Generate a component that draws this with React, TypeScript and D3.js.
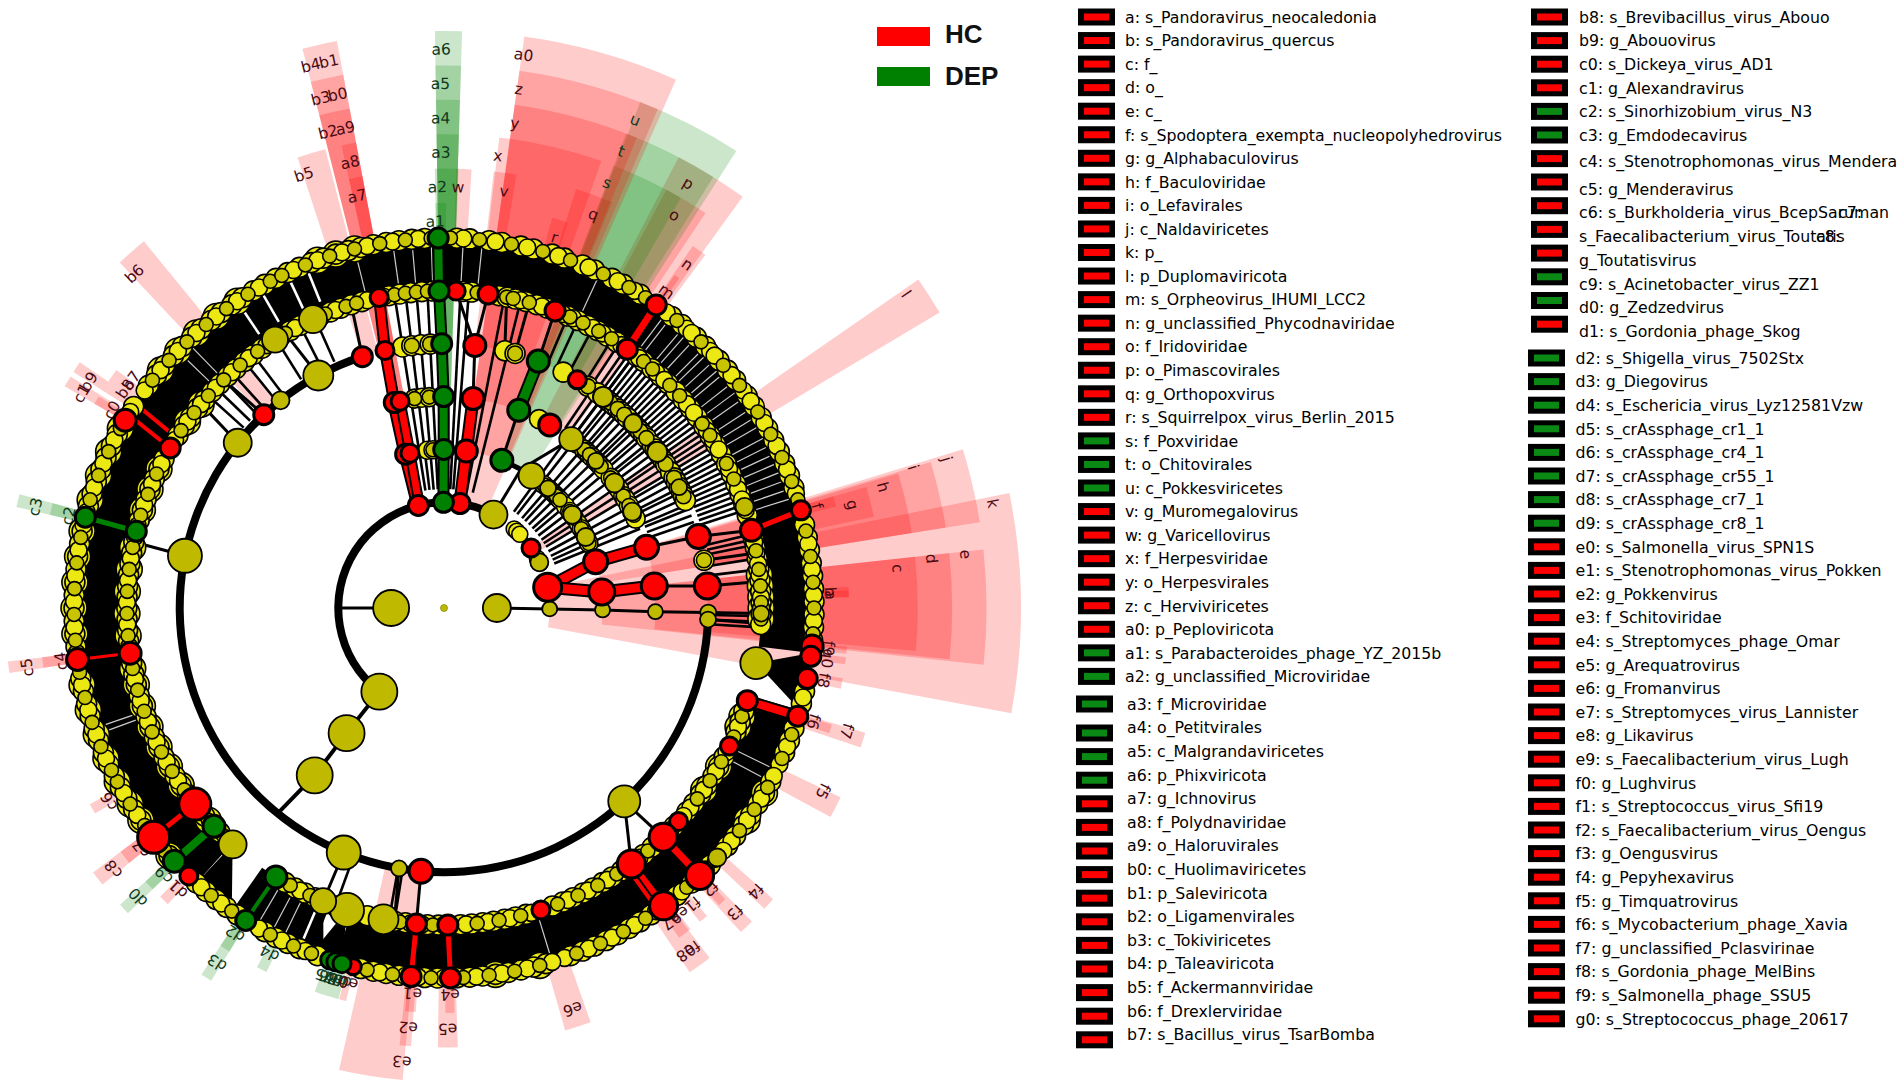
import * as d3 from 'd3';

type Cls = 'HC' | 'DEP' | 'Y';

// angles are degrees clockwise from 12 o'clock, levels run 1 (kingdom) to 7 (species)
const center = { x: 444, y: 608 };
const ringR = d3.scaleLinear().domain([0, 7]).range([0, 370]);
const outerR = d3.scaleLinear().domain([2, 7]).range([577, 405]);
const toRad = d3.scaleLinear().domain([0, 360]).range([0, 2 * Math.PI]);

const speciesBright = [2, 4, 7, 9, 12, 14, 17, 19, 22, 24, 27, 29, 32, 38, 40, 43, 45, 48, 50, 52, 55, 57, 59, 61, 63, 65, 67, 69, 71, 77, 79, 81, 83, 85, 87, 89, 91, 93, 95, 103, 105, 109, 111, 113, 118, 120, 122, 124, 126, 128, 130, 134, 138, 141, 146, 148, 150, 152, 154, 156, 158, 160, 164, 166, 168, 170, 172, 174, 176, 178, 181, 183, 187, 189, 191, 193, 200, 203, 205, 207, 209, 214, 216, 218, 220, 222, 228, 233, 235, 237, 239, 241, 243, 245, 247, 249, 251, 253, 255, 257, 259, 264, 266, 268, 270, 272, 274, 276, 278, 280, 282, 286, 288, 290, 292, 294, 296, 298, 303, 307, 309, 311, 313, 315, 317, 319, 321, 323, 325, 327, 329, 331, 333, 335, 337, 339, 341, 343, 345, 347, 349, 351, 353, 355, 357];
const speciesDark = [1, 5.5, 10.5, 15.5, 20, 25.5, 30, 33, 39, 44, 49, 53, 58, 62, 66, 70, 73, 78, 82, 86, 90, 94, 98, 110, 114, 119, 123, 127, 133, 139, 147, 151, 155, 159, 165, 169, 173, 177, 182, 188, 192, 201, 204, 208, 215, 219, 229, 234, 238, 242, 244, 248, 252, 256, 260, 265, 269, 273, 277, 281, 287, 291, 295, 299, 308, 312, 316, 320, 324, 328, 332, 334, 338, 342, 346, 350, 354, 358];
const speciesWide = [228, 235, 238, 242, 246, 250, 254, 258, 266, 270, 274, 278, 282, 287, 291, 295, 299, 310, 314, 318, 322, 326, 340, 343, 346, 120, 125, 165, 172];
const speciesExtra = [3, 8, 13, 18, 23, 28, 31, 37, 41, 42, 46, 47, 51, 54, 56, 60, 64, 68, 72, 80, 84, 88, 92, 96, 104, 112, 115, 117, 121, 125, 129, 131, 135, 137, 140, 145, 149, 153, 157, 161, 163, 167, 171, 175, 180, 184, 186, 190, 202, 206, 210, 217, 221, 230, 236, 240, 246, 250, 254, 258, 263, 267, 271, 275, 279, 283, 285, 289, 293, 297, 302, 306, 310, 314, 318, 322, 326, 330, 336, 340, 344, 348, 352, 356];

const genusBright = [3.5, 5, 10, 11.5, 13, 15, 17, 19, 23, 25, 27, 29, 31, 33, 37.5, 39, 41, 43, 45, 47, 49, 51, 53, 55, 57, 59, 61, 63, 65, 67, 69, 71, 73, 77.5, 79, 81, 83, 85, 87, 89, 91, 93, 109, 111, 113, 118, 120, 122, 124, 126, 128, 130, 133.5, 139, 141, 146, 148, 150, 152, 154, 156, 158, 160, 165, 167, 169, 171, 173, 175, 177, 181, 183, 187, 189, 191, 194, 200, 204, 206, 208, 210, 225, 229, 234, 236, 238, 240, 242, 244, 246, 248, 250, 252, 254, 256, 258, 260, 264, 266, 268, 270, 272, 274, 276, 278, 280, 282, 286, 288, 290, 292, 294, 296, 298, 303, 305, 307, 309, 311, 313, 315, 317, 319, 321, 323, 325, 329, 331, 333, 337, 339, 341, 343, 345, 350, 352, 354, 356, 358];
const genusDark = [6, 11.4, 12.6, 15.6, 23.4, 26, 29.2, 31.9, 39, 41.1, 45.4, 48, 54.5, 57, 62.9, 66, 71.4, 79.6, 83, 86, 89, 92, 110, 114, 119, 123, 127, 140, 147, 151, 155, 159, 166, 170, 174, 182, 188, 190, 205, 209, 224, 228, 235, 239, 243, 247, 251, 255, 259, 265, 269, 273, 277, 281, 287, 291, 295, 304, 308, 312, 316, 320, 324, 330, 338, 342, 344, 351, 353, 355, 357];
const genusWide = [228, 236, 240, 244, 248, 252, 256, 259, 265, 269, 273, 277, 281, 288, 292, 296, 306, 310, 84, 86, 88, 90, 92, 110, 112, 120, 125];
const genusExtra = [4, 14, 18, 22, 24, 28, 30, 34, 38, 42, 44, 50, 52, 56, 58, 60, 64, 68, 70, 72, 78, 80, 82, 84, 88, 90, 112, 117, 121, 125, 129, 131, 134.5, 142, 149, 153, 157, 164, 168, 172, 176, 180, 184, 186, 192, 201, 207, 227, 230, 237, 241, 245, 249, 253, 257, 263, 267, 271, 275, 279, 283, 285, 289, 293, 297, 302, 306, 310, 314, 318, 322, 326, 332, 336, 340, 346, 349];

const familyRing = [13.3, 15.6, 26.8, 33, 35.5, 37, 38, 39, 40, 41.1, 42, 43, 44, 45.7, 47, 48, 49, 50, 52, 53, 53.8, 55, 56, 57, 59, 60.5, 61.5, 62.8, 64, 65, 66, 79.6, 351, 353, 355, 357];
const orderRing = [26.7, 37, 39, 41.5, 42.5, 43.5, 44.5, 45.9, 47, 48, 49, 52, 53.7, 55, 56, 58, 59, 61, 62.9, 64, 65, 352, 354, 356];
const classRing = [33.5, 39, 41, 42, 44, 45, 46, 47, 50, 52.5, 54, 55.5, 58, 60, 62, 63.4, 64.5, 66, 354, 356];
const phylumRing = [41.6, 43.5, 45.8, 62, 65];

// band of dense species edges between genus and species rings: [from, to]
const denseBands = [[106, 197], [201, 215], [222, 457]];
const fans: [number, number, number, number][] = [
  [6, 100, 97, 106], [6, 221.8, 215, 222], [6, 197.8, 196, 201], [6, 202.4, 199, 204],
];
const streaksThin = [37, 38, 40.5, 41.5, 43, 45, 46, 47.5, 49, 50, 52, 53.5, 55, 57, 58.5, 60, 62, 63.5, 65, 66.5, 68, 69.5, 71, 72.5, 116, 118, 163, 206, 208, 210.5, 212.5, 250, 251, 314, 316, 346, 352, 355, 358, 3, 6, 25];
const streaksWide = [326, 330, 334.8, 338, 203];

// edge bundles: [from level, to level, angles]
const spokes: [number, number, number[]][] = [
  [2, 4, [36, 38, 41, 43, 45.5, 48, 50, 52.5, 55, 57, 59, 61.5, 64, 66, 68]],
  [4, 5, [34, 35.5, 37, 38.5, 39.5, 41, 42, 43.5, 45, 46, 47, 48.5, 49.5, 51, 52, 53.5, 55, 56, 57.5, 59, 60, 61.5, 63, 64, 65.5, 67, 68, 69.5, 71]],
  [5, 6, [23, 25, 28, 32, 33.5, 35, 36, 37, 38, 39, 40, 41, 42, 43, 44, 45, 46, 47, 48, 49, 50, 51, 52, 53, 54, 55, 56, 57, 58, 59, 60, 61, 62, 63, 64, 65, 66, 67, 68, 69, 70, 71, 72, 76.5, 77.5, 78.5, 81, 83, 91.5, 92.5, 93.5]],
  [2, 6, [351, 353, 355, 357, 3, 4.5, 11, 14]],
  [5, 6, [312, 314, 316, 318, 321, 323, 328, 336, 333, 189, 190, 200]],
];

// [level, angle, class, size]
const cladeNodes: [number, number, Cls, number][] = [
  [1, 270, 'Y', 18], [1, 90, 'Y', 14],
  [2, 217.7, 'Y', 18], [2, 27.9, 'Y', 14], [2, 90.5, 'Y', 7.5], [2, 64.4, 'Y', 9],
  [3, 217.9, 'Y', 18], [3, 33.5, 'Y', 13], [3, 90.7, 'Y', 7.5], [3, 54, 'Y', 9], [3, 63.4, 'Y', 9], [3, 41, 'Y', 8],
  [4, 217.7, 'Y', 18], [4, 37, 'Y', 12], [4, 91, 'Y', 7.5], [4, 53.7, 'Y', 9.5], [4, 62.9, 'Y', 9], [4, 45.9, 'Y', 8],
  [5, 137, 'Y', 16], [5, 189.8, 'Y', 8], [5, 202.3, 'Y', 17], [5, 281.4, 'Y', 17], [5, 308.7, 'Y', 14], [5, 321.8, 'Y', 9], [5, 331.6, 'Y', 15], [5, 37, 'Y', 10], [5, 91, 'Y', 8], [5, 92.5, 'Y', 8], [5, 53.8, 'Y', 10], [5, 45.7, 'Y', 9], [5, 62.8, 'Y', 8],
  [6, 100, 'Y', 16], [6, 221.8, 'Y', 14], [6, 197.8, 'Y', 17], [6, 202.4, 'Y', 13], [6, 191, 'Y', 15], [6, 327.8, 'Y', 13], [6, 335.6, 'Y', 14], [6, 91, 'Y', 8], [6, 71.4, 'Y', 9],
  [7, 132.4, 'Y', 9],
  // red clades
  [2, 78.7, 'HC', 14], [2, 55.4, 'HC', 9], [2, 346, 'HC', 10], [2, 8.7, 'HC', 10],
  [3, 73, 'HC', 12], [3, 84.2, 'HC', 13], [3, 346, 'HC', 10], [3, 347.6, 'HC', 9], [3, 8.1, 'HC', 11],
  [4, 73.3, 'HC', 12], [4, 84, 'HC', 13], [4, 30, 'HC', 11], [4, 346.4, 'HC', 10], [4, 348, 'HC', 9], [4, 7.9, 'HC', 11],
  [5, 74.3, 'HC', 12], [5, 85.2, 'HC', 13], [5, 30.3, 'HC', 9], [5, 6.7, 'HC', 11], [5, 185, 'HC', 12], [5, 342, 'HC', 10], [5, 317, 'HC', 10], [5, 347.1, 'HC', 9],
  [6, 75.8, 'HC', 11], [6, 35.3, 'HC', 10], [6, 20.5, 'HC', 10], [6, 8, 'HC', 10], [6, 2.2, 'HC', 9], [6, 348.2, 'HC', 9], [6, 107, 'HC', 10], [6, 115.8, 'HC', 9], [6, 132.3, 'HC', 9], [6, 136.3, 'HC', 14], [6, 143.8, 'HC', 14], [6, 162.2, 'HC', 9], [6, 179.3, 'HC', 10], [6, 185, 'HC', 10], [6, 231.8, 'HC', 16], [6, 261.8, 'HC', 11], [6, 300.3, 'HC', 10],
  [7, 74.7, 'HC', 9.5], [7, 35, 'HC', 10], [7, 95.9, 'HC', 11], [7, 97.5, 'HC', 10], [7, 101, 'HC', 10], [7, 107, 'HC', 10], [7, 136.3, 'HC', 14], [7, 143.6, 'HC', 14], [7, 179, 'HC', 10], [7, 185.1, 'HC', 10], [7, 194.2, 'HC', 8], [7, 223.6, 'HC', 9], [7, 231.7, 'HC', 16], [7, 262, 'HC', 11], [7, 300.5, 'HC', 11],
  // green clades
  [2, 359.7, 'DEP', 10], [3, 21.4, 'DEP', 11], [3, 359.9, 'DEP', 10],
  [4, 20.7, 'DEP', 11], [4, 359.9, 'DEP', 10], [5, 20.9, 'DEP', 11], [5, 359.5, 'DEP', 10], [6, 359.1, 'DEP', 10], [7, 359.1, 'DEP', 10],
  [6, 212, 'DEP', 11], [6, 226.5, 'DEP', 11], [6, 284, 'DEP', 10],
  [7, 198, 'DEP', 9], [7, 197, 'DEP', 9], [7, 196, 'DEP', 9], [7, 212.4, 'DEP', 10], [7, 226.8, 'DEP', 11], [7, 284.2, 'DEP', 10],
];

// [from level, from angle, to level, to angle, class, width]
const links: [number, number, number, number, Cls, number][] = [
  [1, 270, 2, 270, 'Y', 3], [1, 90, 2, 90.5, 'Y', 3], [2, 90.5, 3, 90.7, 'Y', 3], [3, 90.7, 4, 91, 'Y', 3], [4, 91, 5, 91, 'Y', 3], [5, 91, 6, 91, 'Y', 3], [6, 91, 7, 91, 'Y', 3], [5, 92.5, 7, 93, 'Y', 3],
  [2, 217.7, 3, 217.9, 'Y', 4], [3, 217.9, 4, 217.7, 'Y', 4], [4, 217.7, 5, 219, 'Y', 4],
  [2, 27.9, 3, 29, 'Y', 3], [3, 29, 4, 37, 'Y', 3], [4, 37, 5, 37, 'Y', 3], [5, 37, 6, 37, 'Y', 3],
  [4, 84, 5, 85.2, 'Y', 3], [4, 73.3, 5, 74.3, 'Y', 3], [5, 74.3, 6, 75.8, 'Y', 3], [5, 85.2, 6, 85.2, 'Y', 3], [5, 79.6, 6, 80, 'Y', 3],
  [4, 7.9, 5, 6.7, 'Y', 3], [5, 6.7, 6, 8, 'Y', 3], [5, 6.7, 6, 2.2, 'Y', 3], [5, 13.3, 6, 11.4, 'Y', 3], [5, 15.6, 6, 15.6, 'Y', 3], [5, 20.9, 6, 20.5, 'Y', 3],
  [5, 137, 6, 136.3, 'Y', 3], [5, 137, 6, 143.8, 'Y', 3], [5, 185, 6, 185, 'Y', 3], [5, 189.8, 6, 189, 'Y', 3], [5, 202.3, 6, 202.4, 'Y', 3], [5, 281.4, 6, 282, 'Y', 3], [5, 308.7, 6, 310, 'Y', 3], [5, 331.6, 6, 330, 'Y', 3], [5, 317, 6, 316, 'Y', 3], [5, 342, 6, 343, 'Y', 3],
  [2, 78.7, 3, 73, 'HC', 9], [3, 73, 4, 73.3, 'HC', 9], [2, 78.7, 3, 84.2, 'HC', 9], [3, 84.2, 4, 84, 'HC', 9], [6, 75.8, 7, 74.7, 'HC', 5],
  [2, 346, 3, 346, 'HC', 10], [3, 346, 4, 346.4, 'HC', 10], [2, 346.5, 3, 347.6, 'HC', 7], [3, 347.6, 4, 348, 'HC', 7], [4, 346.4, 5, 347.1, 'HC', 8], [5, 347.1, 6, 348.2, 'HC', 8],
  [2, 8.7, 3, 8.1, 'HC', 9], [3, 8.1, 4, 7.9, 'HC', 9], [6, 35.3, 7, 35, 'HC', 7],
  [6, 107, 7, 107, 'HC', 8], [6, 136.3, 7, 136.3, 'HC', 7], [6, 143.8, 7, 143.6, 'HC', 7], [6, 144.8, 7, 144.7, 'HC', 4], [6, 179.3, 7, 179, 'HC', 5], [6, 185, 7, 185.1, 'HC', 5], [6, 231.8, 7, 231.7, 'HC', 5], [6, 261.8, 7, 262, 'HC', 3], [6, 300.3, 7, 301.5, 'HC', 4], [6, 302.5, 7, 303.5, 'HC', 4],
  [2, 359.7, 3, 359.9, 'DEP', 8], [3, 359.9, 4, 359.9, 'DEP', 8], [4, 359.9, 5, 359.5, 'DEP', 8], [5, 359.5, 6, 359.1, 'DEP', 8], [6, 359.1, 7, 359.1, 'DEP', 8],
  [3, 21.4, 4, 20.7, 'Y', 3], [4, 20.7, 5, 20.9, 'DEP', 9], [6, 212, 7, 212.4, 'DEP', 4], [6, 226.5, 7, 226.8, 'DEP', 8], [6, 284, 7, 284.2, 'DEP', 5],
];

// thick connecting arcs: [level, from, to, width]
const arcs: [number, number, number, number][] = [
  [2, 217.7, 387.9, 8], [5, 92.5, 342, 8], [3, 21.4, 33.5, 5],
];

// label, level, wedge from, wedge to, class, label angle
const clades: [string, number, number, number, Cls, number][] = [
  ['k', 2, 78.5, 100.5, 'HC', 79.2], ['e', 3, 83.8, 96, 'HC', 84.1], ['d', 4, 83.8, 95.8, 'HC', 84.2], ['c', 5, 83.8, 95.2, 'HC', 85],
  ['a', 7, 87.5, 88.5, 'HC', 88.1], ['b', 7, 87, 88.4, 'HC', 87.6],
  ['j', 3, 73, 80.9, 'HC', 73.5], ['i', 4, 73.3, 80.9, 'HC', 73.3], ['h', 5, 73.5, 80.9, 'HC', 74.6], ['g', 6, 74, 78, 'HC', 75.8], ['f', 7, 74, 75.5, 'HC', 74.7],
  ['l', 2, 55.3, 59.2, 'HC', 55.8], ['m', 7, 34.7, 35.5, 'HC', 35.1], ['n', 6, 34.5, 36.5, 'HC', 35.3], ['p', 4, 27.5, 36, 'HC', 29.9], ['o', 5, 28, 33.5, 'HC', 30.4],
  ['q', 6, 17.5, 22.5, 'HC', 20.8], ['r', 7, 15.5, 17.8, 'HC', 16.6],
  ['u', 3, 21.2, 32.6, 'DEP', 21.4], ['t', 4, 21, 32, 'DEP', 21.2], ['s', 5, 21, 30, 'DEP', 21],
  ['a0', 2, 8, 23.7, 'HC', 8.2], ['z', 3, 8, 23.2, 'HC', 8.2], ['y', 4, 8, 22.3, 'HC', 8.3], ['x', 5, 6.7, 19.4, 'HC', 6.8], ['v', 6, 6.5, 9.5, 'HC', 8.2], ['w', 6, 1.6, 3.6, 'HC', 1.9],
  ['a6', 2, -0.9, 1.8, 'DEP', -0.3], ['a5', 3, -0.9, 1.8, 'DEP', -0.4], ['a4', 4, -0.9, 1.8, 'DEP', -0.4], ['a3', 5, -0.9, 1.8, 'DEP', -0.4], ['a2', 6, -1.2, 1.9, 'DEP', -0.9], ['a1', 7, -1.2, 0.3, 'DEP', -1.3],
  ['b1', 2, 347.5, 349.3, 'HC', 348.1], ['b0', 3, 347.5, 349.3, 'HC', 348.3], ['a9', 4, 347.5, 349.3, 'HC', 348.4], ['a8', 5, 347.5, 349.3, 'HC', 348.1], ['a7', 6, 347.5, 349.3, 'HC', 348.1],
  ['b4', 2, 345.8, 347.5, 'HC', 346.2], ['b3', 3, 345.8, 347.5, 'HC', 346.4], ['b2', 4, 345.8, 347.5, 'HC', 346.3],
  ['b5', 5, 342, 345.5, 'HC', 342.1], ['b6', 5, 316.8, 320.7, 'HC', 317.2],
  ['b7', 7, 305, 306, 'HC', 306], ['b8', 7, 304, 305, 'HC', 304.5], ['b9', 6, 302.5, 304, 'HC', 302.5], ['c0', 7, 300.3, 301.5, 'HC', 300.8], ['c1', 6, 300.3, 301.8, 'HC', 300.6],
  ['c2', 7, 283.3, 285, 'DEP', 283.8], ['c3', 6, 283.3, 285, 'DEP', 283.9], ['c4', 7, 261.5, 263, 'HC', 262.1], ['c5', 6, 261.5, 263, 'HC', 261.9],
  ['c6', 7, 239.5, 241, 'HC', 240], ['c7', 7, 231, 233, 'HC', 231.5], ['c8', 6, 231, 233, 'HC', 231.7], ['c9', 7, 226, 227.5, 'DEP', 226.4], ['d0', 6, 226, 227.5, 'DEP', 226.6], ['d1', 7, 223, 224.5, 'HC', 223.4],
  ['d2', 7, 212, 213.5, 'DEP', 212.7], ['d3', 6, 212, 213.5, 'DEP', 212.6], ['d4', 7, 206, 207.5, 'DEP', 206.8],
  ['d5', 7, 197.9, 198.6, 'DEP', 198], ['d6', 7, 197.2, 197.9, 'DEP', 197.4], ['d7', 7, 196.5, 197.2, 'DEP', 196.7], ['d8', 7, 195.8, 196.5, 'DEP', 196], ['d9', 7, 195.1, 195.8, 'DEP', 195.3], ['e0', 7, 194, 195, 'HC', 194.3],
  ['e3', 5, 185, 192.8, 'HC', 185.3], ['e2', 6, 184.3, 185.8, 'HC', 184.9], ['e1', 7, 184, 185.5, 'HC', 184.7], ['e5', 6, 178.2, 180.8, 'HC', 179.5], ['e4', 7, 178.5, 179.8, 'HC', 179.1], ['e6', 6, 160.5, 164, 'HC', 162.2],
  ['e7', 7, 143.5, 144.5, 'HC', 144], ['e8', 6, 144.5, 146, 'HC', 145], ['e9', 7, 142.5, 143.5, 'HC', 142.5], ['f0', 6, 142.8, 144.5, 'HC', 143.9], ['f1', 7, 139.5, 140.8, 'HC', 140],
  ['f2', 7, 136, 137.2, 'HC', 136.5], ['f3', 6, 135.5, 137.5, 'HC', 136.3], ['f4', 6, 131.5, 133.2, 'HC', 132.3], ['f5', 6, 115.5, 118.4, 'HC', 115.8],
  ['f6', 7, 106.7, 108, 'HC', 107.1], ['f7', 6, 106.5, 108.5, 'HC', 107], ['f8', 7, 100, 101.5, 'HC', 100.8], ['f9', 7, 95.5, 96.5, 'HC', 96], ['g0', 7, 97, 98, 'HC', 97.5],
];

const legendLeft: [string, Cls][] = [
  ['a: s_Pandoravirus_neocaledonia', 'HC'], ['b: s_Pandoravirus_quercus', 'HC'], ['c: f_', 'HC'], ['d: o_', 'HC'], ['e: c_', 'HC'],
  ['f: s_Spodoptera_exempta_nucleopolyhedrovirus', 'HC'], ['g: g_Alphabaculovirus', 'HC'], ['h: f_Baculoviridae', 'HC'], ['i: o_Lefavirales', 'HC'], ['j: c_Naldaviricetes', 'HC'],
  ['k: p_', 'HC'], ['l: p_Duplomaviricota', 'HC'], ['m: s_Orpheovirus_IHUMI_LCC2', 'HC'], ['n: g_unclassified_Phycodnaviridae', 'HC'], ['o: f_Iridoviridae', 'HC'],
  ['p: o_Pimascovirales', 'HC'], ['q: g_Orthopoxvirus', 'HC'], ['r: s_Squirrelpox_virus_Berlin_2015', 'HC'], ['s: f_Poxviridae', 'DEP'], ['t: o_Chitovirales', 'DEP'],
  ['u: c_Pokkesviricetes', 'DEP'], ['v: g_Muromegalovirus', 'HC'], ['w: g_Varicellovirus', 'HC'], ['x: f_Herpesviridae', 'HC'], ['y: o_Herpesvirales', 'HC'], ['z: c_Herviviricetes', 'HC'],
  ['a0: p_Peploviricota', 'HC'], ['a1: s_Parabacteroides_phage_YZ_2015b', 'DEP'], ['a2: g_unclassified_Microviridae', 'DEP'], ['a3: f_Microviridae', 'DEP'], ['a4: o_Petitvirales', 'DEP'],
  ['a5: c_Malgrandaviricetes', 'DEP'], ['a6: p_Phixviricota', 'DEP'], ['a7: g_Ichnovirus', 'HC'], ['a8: f_Polydnaviridae', 'HC'], ['a9: o_Haloruvirales', 'HC'],
  ['b0: c_Huolimaviricetes', 'HC'], ['b1: p_Saleviricota', 'HC'], ['b2: o_Ligamenvirales', 'HC'], ['b3: c_Tokiviricetes', 'HC'], ['b4: p_Taleaviricota', 'HC'],
  ['b5: f_Ackermannviridae', 'HC'], ['b6: f_Drexlerviridae', 'HC'], ['b7: s_Bacillus_virus_TsarBomba', 'HC'],
];
const legendRight: [string, Cls][] = [
  ['b8: s_Brevibacillus_virus_Abouo', 'HC'], ['b9: g_Abouovirus', 'HC'], ['c0: s_Dickeya_virus_AD1', 'HC'], ['c1: g_Alexandravirus', 'HC'], ['c2: s_Sinorhizobium_virus_N3', 'DEP'],
  ['c3: g_Emdodecavirus', 'DEP'], ['c4: s_Stenotrophomonas_virus_Mendera', 'HC'], ['c5: g_Menderavirus', 'HC'], ['c6: s_Burkholderia_virus_BcepSaruman', 'HC'], ['s_Faecalibacterium_virus_Toutatis', 'HC'],
  ['g_Toutatisvirus', 'HC'], ['c9: s_Acinetobacter_virus_ZZ1', 'DEP'], ['d0: g_Zedzedvirus', 'DEP'], ['d1: s_Gordonia_phage_Skog', 'HC'], ['d2: s_Shigella_virus_7502Stx', 'DEP'],
  ['d3: g_Diegovirus', 'DEP'], ['d4: s_Eschericia_virus_Lyz12581Vzw', 'DEP'], ['d5: s_crAssphage_cr1_1', 'DEP'], ['d6: s_crAssphage_cr4_1', 'DEP'], ['d7: s_crAssphage_cr55_1', 'DEP'],
  ['d8: s_crAssphage_cr7_1', 'DEP'], ['d9: s_crAssphage_cr8_1', 'DEP'], ['e0: s_Salmonella_virus_SPN1S', 'HC'], ['e1: s_Stenotrophomonas_virus_Pokken', 'HC'], ['e2: g_Pokkenvirus', 'HC'],
  ['e3: f_Schitoviridae', 'HC'], ['e4: s_Streptomyces_phage_Omar', 'HC'], ['e5: g_Arequatrovirus', 'HC'], ['e6: g_Fromanvirus', 'HC'], ['e7: s_Streptomyces_virus_Lannister', 'HC'],
  ['e8: g_Likavirus', 'HC'], ['e9: s_Faecalibacterium_virus_Lugh', 'HC'], ['f0: g_Lughvirus', 'HC'], ['f1: s_Streptococcus_virus_Sfi19', 'HC'], ['f2: s_Faecalibacterium_virus_Oengus', 'HC'],
  ['f3: g_Oengusvirus', 'HC'], ['f4: g_Pepyhexavirus', 'HC'], ['f5: g_Timquatrovirus', 'HC'], ['f6: s_Mycobacterium_phage_Xavia', 'HC'], ['f7: g_unclassified_Pclasvirinae', 'HC'],
  ['f8: s_Gordonia_phage_MelBins', 'HC'], ['f9: s_Salmonella_phage_SSU5', 'HC'], ['g0: s_Streptococcus_phage_20617', 'HC'],
];
const legendKey: [string, Cls][] = [['HC', 'HC'], ['DEP', 'DEP']];

const fillOf: Record<Cls, string> = { HC: '#ff0000', DEP: '#008000', Y: '#bfba00' };
const labelInk: Record<string, string> = { HC: '#4a0a12', DEP: '#0e3a1e' };
const brightYellow = '#ece814';
const darkYellow = '#c8c400';
const legendFont = '"DejaVu Sans"';

const polar = (level: number, angle: number) => d3.pointRadial(toRad(angle), ringR(level));

const ringNode = (level: number, angle: number, size: number, fill: string, key: string) => {
  const [x, y] = polar(level, angle);
  return <circle key={key} cx={x} cy={y} r={size} fill={fill} stroke="#000" strokeWidth={1.6} />;
};

// row centre of the swatch in each legend column
const leftRowY = (i: number) => (i < 29 ? 17 + i * 23.55 : i === 29 ? 704 : 733 + (i - 30) * 23.6);
const leftTextY = (i: number) => leftRowY(i) - (i >= 30 ? 5.3 : 0);
const rightRowY = (i: number) => (i < 7 ? 17 + i * 23.6 : i < 14 ? 182 + (i - 7) * 23.7 : 358 + (i - 14) * 23.6);
const rightTextY = (i: number) => rightRowY(i) + (i >= 7 && i < 14 ? 7 : i === 6 ? 3 : 0);

function LegendRow({ name, cls, sx, tx, sy, ty }: { name: string; cls: Cls; sx: number; tx: number; sy: number; ty: number }) {
  return (
    <g>
      <rect x={sx} y={sy - 8.5} width={37} height={17} fill="#000" />
      <rect x={sx + 6} y={sy - 3.5} width={25} height={7} fill={cls === 'HC' ? '#f00' : '#0a8a14'} />
      <text transform={`translate(${tx},${ty}) scale(0.985,1)`} dy="0.36em" fontFamily={legendFont} fontSize={16} fill="#000">
        {name}
      </text>
    </g>
  );
}

export default function App() {
  const sector = d3.arc<{ a: number; b: number; i: number; o: number }>()
    .innerRadius(d => d.i)
    .outerRadius(d => d.o)
    .startAngle(d => toRad(d.a))
    .endAngle(d => toRad(d.b));

  const spokeLines = spokes.flatMap(([from, to, angles], s) =>
    angles.map((a, i) => {
      const [x1, y1] = polar(from + (from === 2 ? 0.25 : 0.1), a);
      const [x2, y2] = polar(to, a);
      return <line key={`sp${s}-${i}`} x1={x1} y1={y1} x2={x2} y2={y2} stroke="#000" strokeWidth={2.6} />;
    }),
  );

  return (
    <svg width={1902} height={1089} style={{ position: 'absolute', left: 0, top: 0, background: '#fff' }}>
      <g transform={`translate(${center.x},${center.y})`}>
        {clades.map(([name, level, a, b, cls]) => (
          <path
            key={`w${name}`}
            d={sector({ a, b, i: ringR(level), o: outerR(level) }) ?? ''}
            fill={fillOf[cls]}
            fillOpacity={0.2}
          />
        ))}
        {clades.map(([name, level, , , cls, la]) => {
          const [x, y] = d3.pointRadial(toRad(la), outerR(level) - 18);
          return (
            <text
              key={`l${name}`}
              transform={`translate(${x},${y}) rotate(${la})`}
              textAnchor="middle"
              dy="0.36em"
              fontFamily="DejaVu Sans"
              fontSize={15.5}
              fill={labelInk[cls]}
            >
              {name}
            </text>
          );
        })}
        {spokeLines}
        {denseBands.map(([a, b], i) => (
          <path key={`band${i}`} d={sector({ a, b, i: ringR(6), o: ringR(7) }) ?? ''} fill="#000" />
        ))}
        {fans.map(([level, apex, a, b], i) => {
          const [x0, y0] = polar(level, apex);
          const [x1, y1] = polar(7, a);
          const [x2, y2] = polar(7, b);
          return <path key={`fan${i}`} d={`M${x0},${y0}L${x1},${y1}L${x2},${y2}Z`} fill="#000" />;
        })}
        {streaksThin.map((a, i) => {
          const [x1, y1] = polar(6.15, a);
          const [x2, y2] = polar(6.85, a);
          return <line key={`st${i}`} x1={x1} y1={y1} x2={x2} y2={y2} stroke="#fff" strokeOpacity={0.8} strokeWidth={1.2} />;
        })}
        {streaksWide.map((a, i) => {
          const [x1, y1] = polar(6.25, a);
          const [x2, y2] = polar(6.85, a);
          return <line key={`sw${i}`} x1={x1} y1={y1} x2={x2} y2={y2} stroke="#fff" strokeWidth={2.6} />;
        })}
        {arcs.map(([level, a, b, w], i) => (
          <path key={`arc${i}`} d={sector({ a, b, i: ringR(level) - w / 2, o: ringR(level) + w / 2 }) ?? ''} fill="#000" />
        ))}
        {links.map(([l0, a0, l1, a1, cls, w], i) => {
          const [x1, y1] = polar(l0, a0);
          const [x2, y2] = polar(l1, a1);
          return (
            <g key={`link${i}`}>
              <line x1={x1} y1={y1} x2={x2} y2={y2} stroke="#000" strokeWidth={cls === 'Y' ? w : w + 4} />
              {cls !== 'Y' && <line x1={x1} y1={y1} x2={x2} y2={y2} stroke={fillOf[cls]} strokeWidth={w} />}
            </g>
          );
        })}
        {speciesWide.map((a, i) => ringNode(7, a, 13, brightYellow, `sw${i}`))}
        {genusWide.map((a, i) => ringNode(6, a, 13, brightYellow, `gw${i}`))}
        {speciesBright.map((a, i) => ringNode(7, a, 10, brightYellow, `sb${i}`))}
        {genusBright.map((a, i) => ringNode(6, a, 10, brightYellow, `gb${i}`))}
        {speciesExtra.map((a, i) => ringNode(7, a, 8.5, brightYellow, `se${i}`))}
        {genusExtra.map((a, i) => ringNode(6, a, 8.5, brightYellow, `ge${i}`))}
        {familyRing.map((a, i) => ringNode(5, a, 10, brightYellow, `f${i}`))}
        {orderRing.map((a, i) => ringNode(4, a, 9.5, brightYellow, `o${i}`))}
        {classRing.map((a, i) => ringNode(3, a, 9, brightYellow, `c${i}`))}
        {phylumRing.map((a, i) => ringNode(2, a, 8, brightYellow, `p${i}`))}
        {speciesDark.map((a, i) => ringNode(7, a, 7, darkYellow, `sd${i}`))}
        {genusDark.map((a, i) => ringNode(6, a, 7, darkYellow, `gd${i}`))}
        {familyRing.map((a, i) => (i % 2 ? ringNode(5, a, 7.5, darkYellow, `fd${i}`) : null))}
        {orderRing.map((a, i) => (i % 2 ? ringNode(4, a, 7, darkYellow, `od${i}`) : null))}
        {classRing.map((a, i) => (i % 2 ? ringNode(3, a, 7, darkYellow, `cd${i}`) : null))}
        {cladeNodes.map(([level, a, cls, size], i) => {
          const [x, y] = polar(level, a);
          return (
            <circle key={`n${i}`} cx={x} cy={y} r={size} fill={fillOf[cls]} stroke="#000" strokeWidth={cls === 'Y' ? 1.8 : 3} />
          );
        })}
        <circle cx={0} cy={0} r={3.5} fill="#bfba00" stroke="#8a8a20" strokeWidth={0.8} />
      </g>

      {legendKey.map(([name, cls], i) => (
        <g key={name}>
          <rect x={877} y={27 + i * 40} width={53} height={19} fill={cls === 'HC' ? '#f00' : '#008000'} />
          <text x={945} y={34 + i * 42} dy="0.36em" fontFamily="Liberation Sans" fontWeight="bold" fontSize={26} fill="#111">
            {name}
          </text>
        </g>
      ))}

      {legendLeft.map(([name, cls], i) => (
        <LegendRow key={name} name={name} cls={cls} sx={i < 29 ? 1078 : 1076} tx={i < 29 ? 1125 : 1127} sy={leftRowY(i)} ty={leftTextY(i)} />
      ))}
      {legendRight.map(([name, cls], i) => (
        <LegendRow key={name} name={name} cls={cls} sx={i < 14 ? 1531 : 1528} tx={i < 14 ? 1579 : 1575.5} sy={rightRowY(i)} ty={rightTextY(i)} />
      ))}
      <text transform={`translate(1838,${rightTextY(8)}) scale(0.985,1)`} dy="0.36em" fontFamily={legendFont} fontSize={16}>c7:</text>
      <text transform={`translate(1816,${rightTextY(9)}) scale(0.985,1)`} dy="0.36em" fontFamily={legendFont} fontSize={16}>c8:</text>
    </svg>
  );
}
